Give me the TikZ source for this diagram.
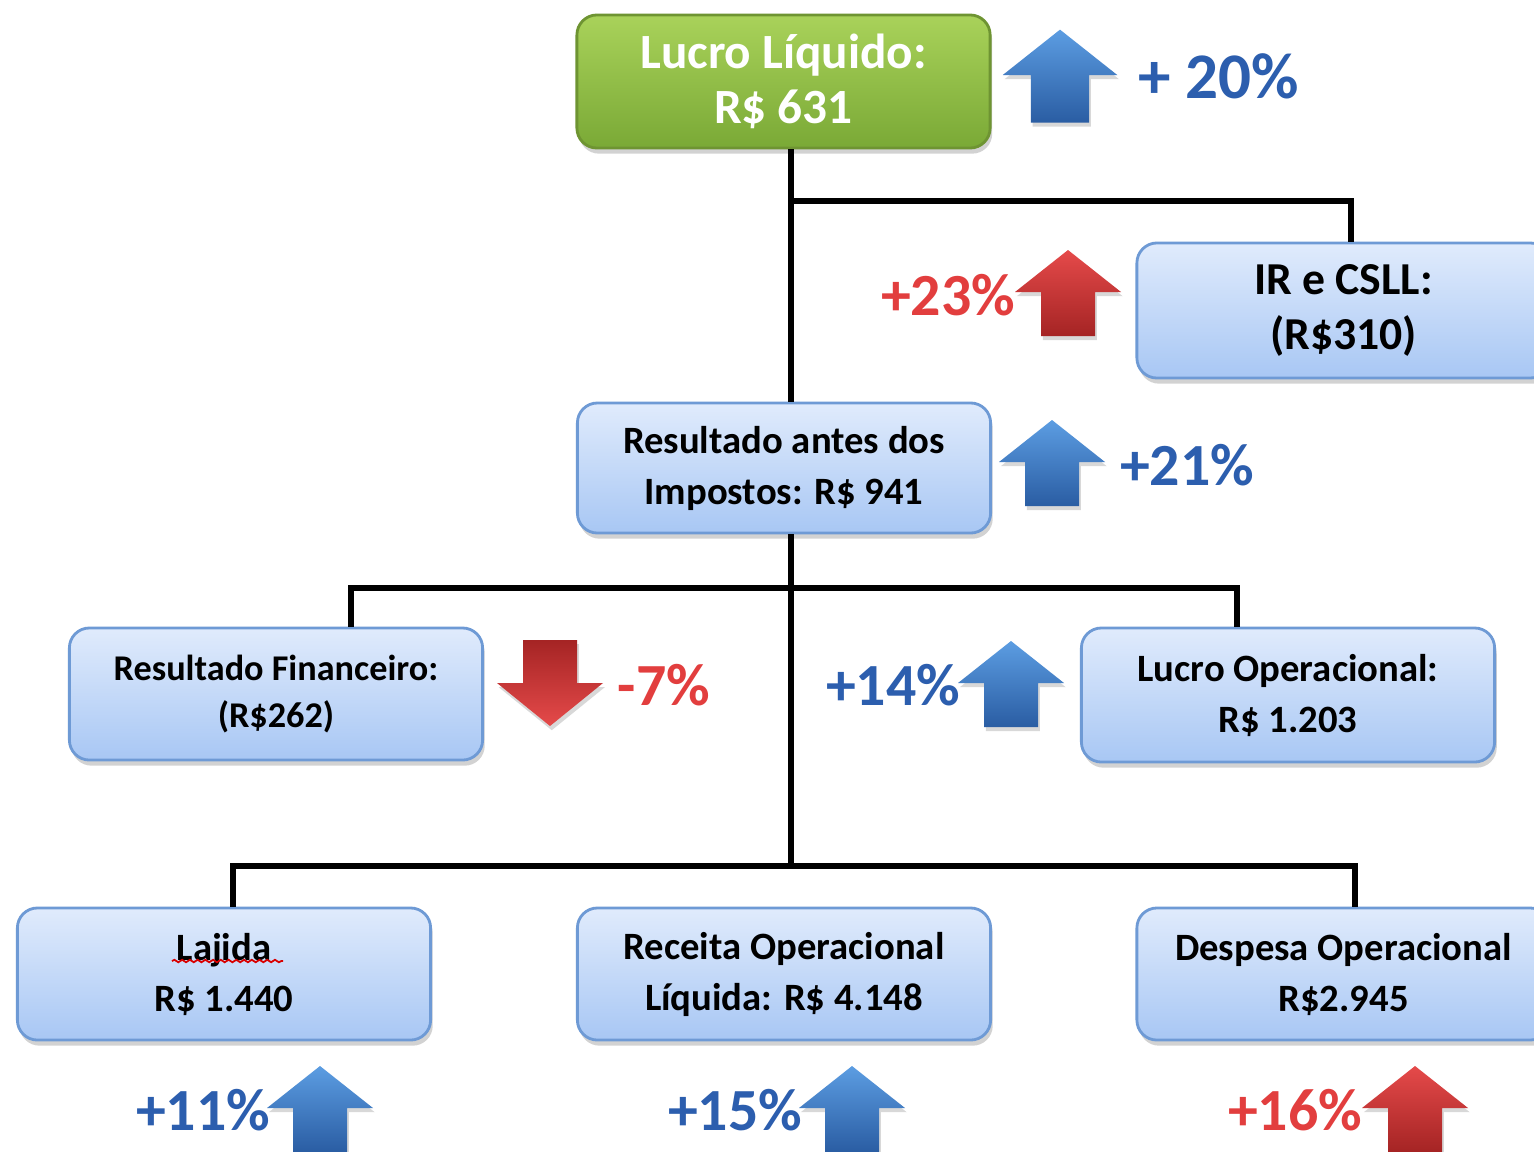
\documentclass[tikz,border=0pt]{standalone}
\usepackage{fontspec}
\setmainfont{Carlito}
\usetikzlibrary{shadows,decorations.pathmorphing}
\definecolor{boxtop}{HTML}{E0EBFC}
\definecolor{boxbot}{HTML}{A8C7F4}
\definecolor{boxline}{HTML}{6E9AD5}
\definecolor{grtop}{HTML}{A9D25A}
\definecolor{grbot}{HTML}{7AA936}
\definecolor{grline}{HTML}{6E9432}
\definecolor{pblue}{HTML}{2C5EAE}
\definecolor{pred}{HTML}{E23E3E}
\definecolor{abtop}{HTML}{5C9DE2}
\definecolor{abbot}{HTML}{2A5DA3}
\definecolor{artop}{HTML}{E54A4A}
\definecolor{arbot}{HTML}{A52424}
\tikzset{
  box/.style={rounded corners=0.2cm, draw=boxline, line width=0.8pt,
    top color=boxtop, bottom color=boxbot, minimum width=4.13cm, minimum height=1.32cm,
    align=center, font=\bfseries\fontsize{11}{14.5}\selectfont, text=black,
    drop shadow={shadow xshift=0.6pt, shadow yshift=-1.6pt, opacity=0.35}},
  greenbox/.style={box, draw=grline, top color=grtop, bottom color=grbot, text=white,
    font=\bfseries\fontsize{14}{15.8}\selectfont},
  link/.style={line width=1.5pt, black},
  pctblue/.style={text=pblue, font=\bfseries\fontsize{17}{18}\selectfont, inner sep=0pt},
  pctred/.style={text=pred, font=\bfseries\fontsize{17}{18}\selectfont, inner sep=0pt},
  blueup/.style={top color=abtop, bottom color=abbot, drop shadow={shadow xshift=0.5pt, shadow yshift=-1.2pt, opacity=0.3}},
  redup/.style={top color=artop, bottom color=arbot, drop shadow={shadow xshift=0.5pt, shadow yshift=-1.2pt, opacity=0.3}},
  reddown/.style={top color=arbot, bottom color=artop, drop shadow={shadow xshift=0.5pt, shadow yshift=-1.2pt, opacity=0.3}},
}
\newcommand\ArrUp[4]{\begin{scope}[shift={(#1,#2)}, scale=#4]
  \path[#3] (-53,0) -- (0,-42) -- (53,0) -- (27,0) -- (27,44) -- (-27,44) -- (-27,0) -- cycle;
\end{scope}}
\newcommand\ArrDown[4]{\begin{scope}[shift={(#1,#2)}, scale=#4]
  \path[#3] (-53,0) -- (0,43) -- (53,0) -- (27,0) -- (27,-43) -- (-27,-43) -- (-27,0) -- cycle;
\end{scope}}
\begin{document}
\begin{tikzpicture}[x=0.01cm, y=-0.01cm]
\useasboundingbox[fill=white] (0,0) rectangle (1534,1151);

% junction coordinates
\coordinate (j1) at (791,201);
\coordinate (j2) at (791,588);
\coordinate (j3) at (791,866);

% connectors (drawn first, under boxes)
\node[greenbox, minimum height=1.33cm] (lucro) at (783.5,81.5) {Lucro Líquido:\\R\$ 631};
\node[box, font=\bfseries\fontsize{13}{15.6}\selectfont, minimum height=1.35cm] (ir) at (1343.5,310.5) {IR e CSLL:\\(R\$310)};
\node[box, minimum height=1.30cm] (antes) at (784,468) {Resultado antes dos\\Impostos: R\$ 941};
\node[box, font=\bfseries\fontsize{10.3}{13.4}\selectfont] (fin) at (276,694) {Resultado Financeiro:\\(R\$262)};
\node[box, minimum height=1.34cm] (oper) at (1288,695) {Lucro Operacional:\\R\$ 1.203};
\node[box] (lajida) at (224,974) {Lajida\\R\$ 1.440};
\node[box] (receita) at (784,974) {Receita Operacional\\Líquida: R\$ 4.148};
\node[box] (despesa) at (1343.5,974) {Despesa Operacional\\R\$2.945};

\draw[link] (lucro.south -| j1) -- (antes.north -| j1);
\draw[link] (j1) -| ([xshift=0.075cm]ir.north);
\draw[link] (antes.south -| j1) -- (j3);
\draw[link] ([xshift=0.75cm]fin.north) |- (j2) -| ([xshift=-0.51cm]oper.north);
\draw[link] ([xshift=0.09cm]lajida.north) |- (j3) -| ([xshift=0.115cm]despesa.north);

% spell-check underline under Lajida
\draw[red!85!black, line width=0.5pt, decorate, decoration={snake, amplitude=0.35pt, segment length=2.2pt}] (172,961) -- (283,961);

% arrows
\ArrUp{1060}{75}{blueup}{1.08}
\ArrUp{1068}{292}{redup}{1}
\ArrUp{1052}{462}{blueup}{1}
\ArrDown{550}{683}{reddown}{1}
\ArrUp{1011}{683}{blueup}{1}
\ArrUp{320}{1108}{blueup}{1}
\ArrUp{852}{1108}{blueup}{1}
\ArrUp{1415}{1108}{redup}{1}

% percentages
\node[pctblue, font=\bfseries\fontsize{18.5}{19}\selectfont] (p20) at (1219,76) {+ 20\%};
\node[pctred] (p23) at (948,295) {+23\%};
\node[pctblue] (p21) at (1187,465) {+21\%};
\node[pctred] (p7) at (664,685) {-7\%};
\node[pctblue] (p14) at (893,685) {+14\%};
\node[pctblue] (p11) at (203,1110) {+11\%};
\node[pctblue] (p15) at (735,1110) {+15\%};
\node[pctred] (p16) at (1295,1110) {+16\%};
\end{tikzpicture}
\end{document}
